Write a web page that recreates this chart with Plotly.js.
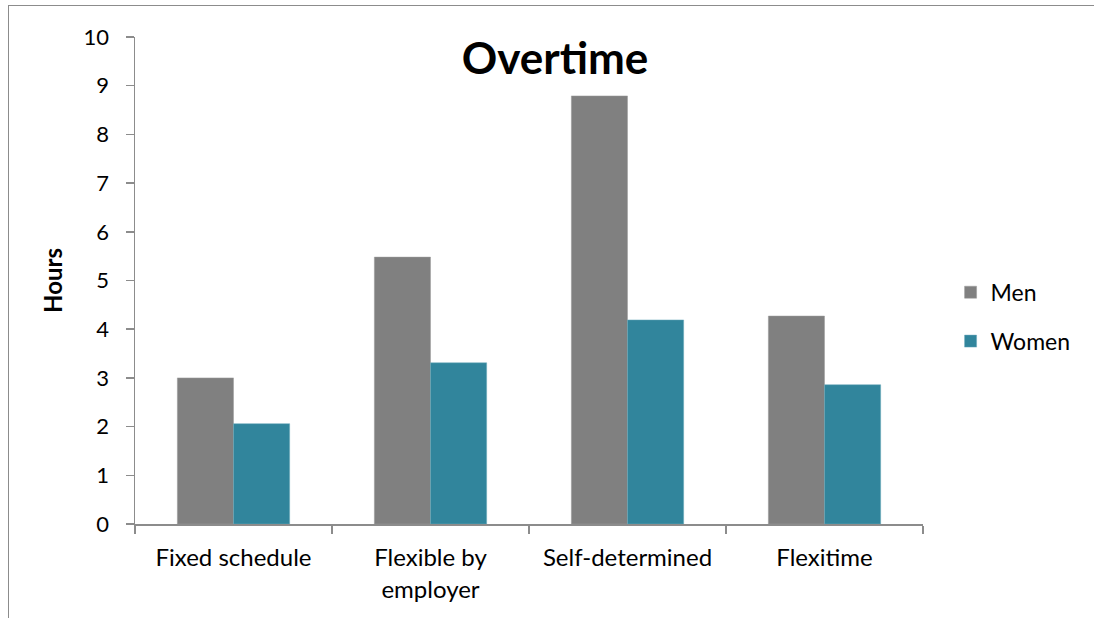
<!DOCTYPE html>
<html>
<head>
<meta charset="utf-8">
<script src="https://cdn.plot.ly/plotly-3.0.1.min.js"></script>
<style>
  html, body { margin: 0; padding: 0; background: #fff; overflow: hidden; }
  #frame { position: absolute; left: 8px; top: 5px; width: 1100px; height: 640px; border: 1.5px solid #8c8c8c; box-sizing: border-box; }
  #chart { position: absolute; left: 0; top: 0; width: 1094px; height: 618px; }
</style>
</head>
<body>
<div id="frame"></div>
<div id="chart"></div>
<script>
const categories = ["Fixed schedule", "Flexible by<br>employer", "Self-determined", "Flexitime"];
const men = [3.0, 5.48, 8.79, 4.27];
const women = [2.06, 3.31, 4.19, 2.86];
const yTicks = [0, 1, 2, 3, 4, 5, 6, 7, 8, 9, 10];

const font = "Lato, 'Open Sans', sans-serif";

const traces = [
  { type: "bar", name: "Men", x: categories, y: men, legendgroup: "m",
    marker: { color: "#808080", line: { color: "#9a9a9a", width: 0.5 } }, hoverinfo: "x+y" },
  { type: "bar", name: "Women", x: categories, y: women, legendgroup: "w",
    marker: { color: "#31859C", line: { color: "#6aa9ba", width: 0.5 } }, hoverinfo: "x+y" }
];

const layout = {
  width: 1094, height: 618,
  paper_bgcolor: "rgba(0,0,0,0)", plot_bgcolor: "rgba(0,0,0,0)",
  margin: { l: 135, r: 171, t: 37, b: 94 },
  font: { family: font, size: 22, color: "#000" },
  title: { text: "<b>Overtime</b>", font: { family: font, size: 44, color: "#000" },
           x: 0.533, xref: "paper", xanchor: "center", y: 0.905, yref: "container", yanchor: "middle" },
  barmode: "group", bargap: 0.43, bargroupgap: 0,
  xaxis: { type: "category", showline: true, linecolor: "#8c8c8c", linewidth: 1.5,
           ticks: "outside", tickson: "boundaries", ticklen: 8, tickcolor: "#8c8c8c", tickwidth: 1.5,
           ticklabelstandoff: 12,
           showgrid: false, tickfont: { family: font, size: 24, color: "#000" }, automargin: false },
  yaxis: { range: [0, 10], tickvals: yTicks, showline: true, linecolor: "#8c8c8c", linewidth: 1.5,
           ticks: "outside", ticklen: 8, tickcolor: "#8c8c8c", tickwidth: 1.5, showgrid: false, zeroline: false,
           ticklabelstandoff: 12,
           tickfont: { family: font, size: 22, color: "#000" }, automargin: false,
           title: { text: "<b>Hours</b>", font: { family: font, size: 24, color: "#000" }, standoff: 14 } },
  legend: { x: 1.035, xanchor: "left", y: 0.52, yanchor: "top", traceorder: "grouped", tracegroupgap: 16,
            font: { family: font, size: 23, color: "#000" }, itemwidth: 30 },
  showlegend: true
};

Plotly.newPlot("chart", traces, layout, { displayModeBar: false, staticPlot: true });
</script>
</body>
</html>
